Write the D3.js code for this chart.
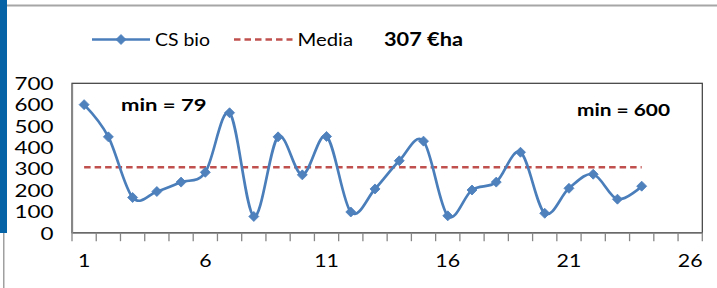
<!DOCTYPE html>
<html>
<head>
<meta charset="utf-8">
<script src="https://cdn.jsdelivr.net/npm/d3@7"></script>
<style>
  html, body { margin: 0; padding: 0; background: #fff; }
  svg { display: block; }
  text { font-family: Lato, "Open Sans", "Liberation Sans", sans-serif; fill: #000; }
</style>
</head>
<body>
<svg id="chart" width="717" height="288"></svg>
<script>
// ---- data ----
const categories = ["1","2","3","4","5","6","7","8","9","10","11","12","13","14","15","16","17","18","19","20","21","22","23","24","25","26"];
const csBio = [600, 449, 165, 193, 237, 283, 562, 76, 449, 271, 451, 97, 205, 337, 429, 79, 200, 237, 377, 91, 208, 274, 157, 218];
const media = [307, 307, 307, 307, 307, 307, 307, 307, 307, 307, 307, 307, 307, 307, 307, 307, 307, 307, 307, 307, 307, 307, 307, 307];
const xTickLabels = ["1", "6", "11", "16", "21", "26"];
const yTicks = [0, 100, 200, 300, 400, 500, 600, 700];
const seriesNames = ["CS bio", "Media"];
const mediaLabel = "307 €ha";
const noteLeft = "min = 79";
const noteRight = "min = 600";

// ---- layout ----
const svg = d3.select("#chart");
const plot = { left: 72, right: 702.3, top: 83.3, bottom: 232.7 };
const blue = "#4A7EBB", markerBlue = "#4F81BD", red = "#C0504D";

// decorations (frame of the slide)
svg.append("rect").attr("x", 0).attr("y", 0).attr("width", 7).attr("height", 233).attr("fill", "#0563A6");
svg.append("rect").attr("x", 7).attr("y", 4.5).attr("width", 710).attr("height", 2).attr("fill", "#A6A6A6");
svg.append("rect").attr("x", 3).attr("y", 233).attr("width", 1.5).attr("height", 55).attr("fill", "#A0A0A0");

const x = d3.scaleBand().domain(categories).range([plot.left, plot.right]).padding(0);
const xc = d => x(d) + x.bandwidth() / 2;
const y = d3.scaleLinear().domain([0, 700]).range([plot.bottom, plot.top]);

function stretch(sel, factor) {
  sel.each(function () {
    const w = this.getComputedTextLength();
    this.setAttribute("textLength", w * factor);
    this.setAttribute("lengthAdjust", "spacingAndGlyphs");
  });
}
function fitTo(sel, width) {
  sel.attr("textLength", width).attr("lengthAdjust", "spacingAndGlyphs");
}

// plot border
svg.append("rect")
  .attr("x", plot.left).attr("y", plot.top)
  .attr("width", plot.right - plot.left).attr("height", plot.bottom - plot.top)
  .attr("fill", "none").attr("stroke", "#3a3a3a").attr("stroke-width", 1.2);

// x axis
const xAxis = d3.axisBottom(x).tickSize(0).tickFormat(d => xTickLabels.includes(d) ? d : "");
const gx = svg.append("g").attr("transform", `translate(0,${plot.bottom})`).call(xAxis);
gx.select(".domain").attr("stroke", "#868686").attr("stroke-width", 1.3);
gx.selectAll("text").attr("font-size", "17.5px").attr("dy", 0).attr("y", 34).attr("fill", "#000");
stretch(gx.selectAll("text"), 1.22);
// tick marks at band edges
const edges = categories.map(c => x(c)).concat([plot.right]);
svg.append("g").selectAll("line").data(edges).join("line")
  .attr("x1", d => d).attr("x2", d => d)
  .attr("y1", plot.bottom).attr("y2", plot.bottom + 8.5)
  .attr("stroke", "#868686").attr("stroke-width", 1.3);

// y axis
const yAxis = d3.axisLeft(y).tickValues(yTicks).tickSize(0).tickPadding(18.5);
const gy = svg.append("g").attr("transform", `translate(${plot.left},0)`).call(yAxis);
gy.select(".domain").attr("stroke", "#868686").attr("stroke-width", 1.3);
gy.selectAll("text").attr("font-size", "17.5px").attr("dy", "0.36em").attr("fill", "#000");
stretch(gy.selectAll("text"), 1.28);

// Media dashed line
const line = d3.line().x((d, i) => xc(categories[i])).y(d => y(d));
svg.append("path").datum(media)
  .attr("d", line)
  .attr("fill", "none").attr("stroke", red).attr("stroke-width", 2.5)
  .attr("stroke-dasharray", "6.5,4");

// CS bio smoothed line
const smooth = d3.line().x((d, i) => xc(categories[i])).y(d => y(d)).curve(d3.curveCatmullRom.alpha(0));
svg.append("path").datum(csBio)
  .attr("d", smooth)
  .attr("fill", "none").attr("stroke", blue).attr("stroke-width", 2.7)
  .attr("stroke-linejoin", "round");

const diamond = r => `M0,${-r}L${r},0L0,${r}L${-r},0Z`;
svg.append("g").selectAll("path").data(csBio).join("path")
  .attr("transform", (d, i) => `translate(${xc(categories[i])},${y(d)})`)
  .attr("d", diamond(5))
  .attr("fill", markerBlue).attr("stroke", blue).attr("stroke-width", 0.8);

// annotations
const t1 = svg.append("text").attr("x", 121).attr("y", 110.7)
  .attr("font-size", "17.5px").attr("font-weight", "bold").text(noteLeft);
fitTo(t1, 85.5);
const t2 = svg.append("text").attr("x", 577).attr("y", 116)
  .attr("font-size", "17.5px").attr("font-weight", "bold").text(noteRight);
fitTo(t2, 93);

// legend
const ly = 39.5;
svg.append("line").attr("x1", 92).attr("x2", 150).attr("y1", ly).attr("y2", ly)
  .attr("stroke", blue).attr("stroke-width", 2.7);
svg.append("path").attr("transform", `translate(121,${ly})`).attr("d", diamond(5))
  .attr("fill", markerBlue).attr("stroke", blue).attr("stroke-width", 0.8);
const l1 = svg.append("text").attr("x", 155).attr("y", 45.5).attr("font-size", "18px").text(seriesNames[0]);
fitTo(l1, 55);
svg.append("line").attr("x1", 234).attr("x2", 292.5).attr("y1", ly).attr("y2", ly)
  .attr("stroke", red).attr("stroke-width", 2.5).attr("stroke-dasharray", "6.5,4");
const l2 = svg.append("text").attr("x", 297.5).attr("y", 45.5).attr("font-size", "18px").text(seriesNames[1]);
fitTo(l2, 55.5);
const l3 = svg.append("text").attr("x", 384).attr("y", 45.5).attr("font-size", "18px").attr("font-weight", "bold").text(mediaLabel);
fitTo(l3, 79);
</script>
</body>
</html>
